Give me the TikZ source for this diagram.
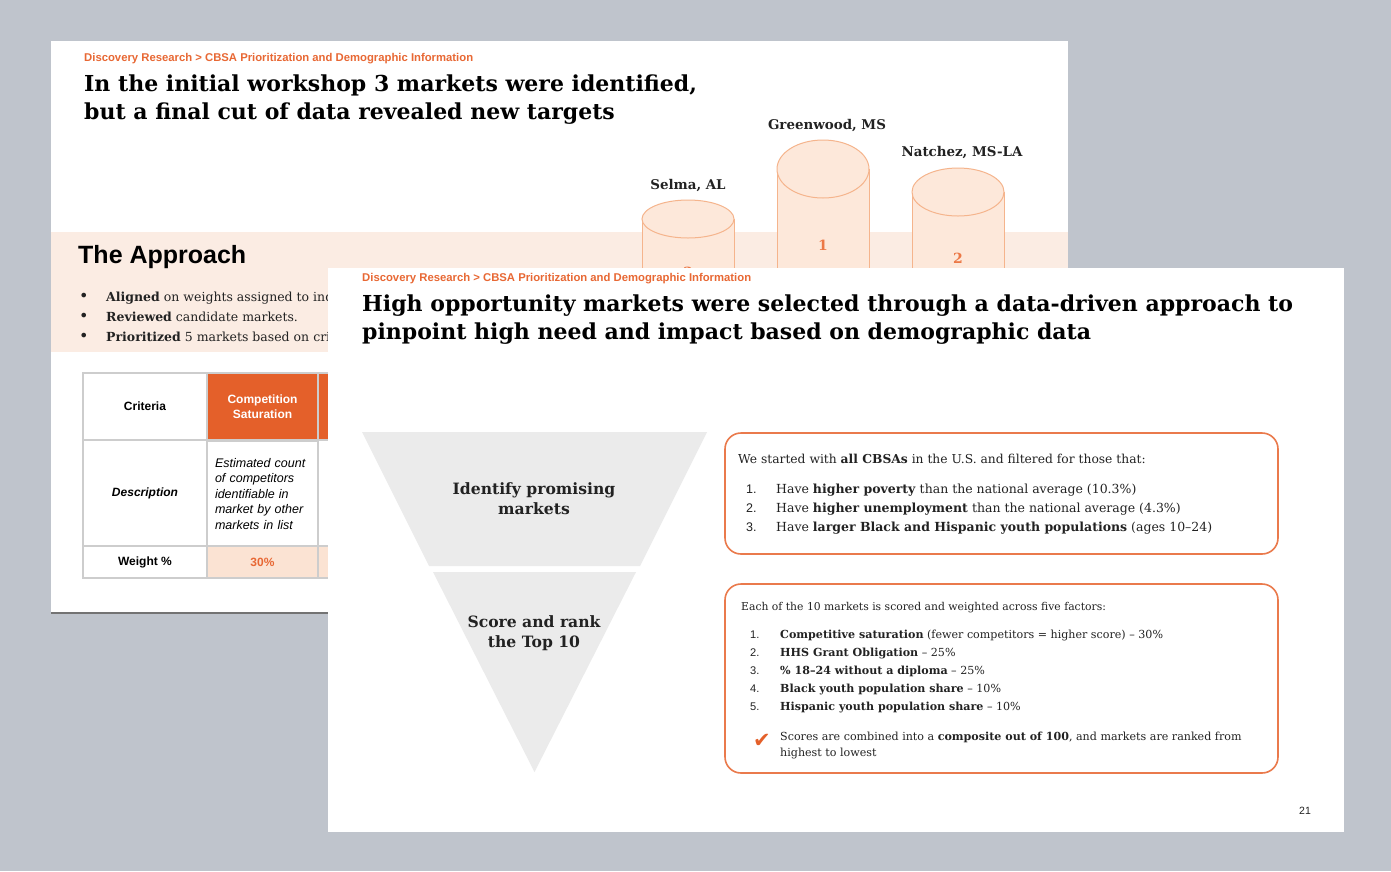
\documentclass[tikz,border=0pt]{standalone}
\usepackage{fontspec}
\setmainfont{DejaVu Serif}
\setsansfont{Liberation Sans}
\newfontfamily\symfont{DejaVu Sans}
\usetikzlibrary{positioning}

\definecolor{deskgray}{RGB}{191,196,204}
\definecolor{crumbor}{RGB}{232,104,52}
\definecolor{heador}{RGB}{228,96,42}
\definecolor{boxor}{RGB}{234,122,76}
\definecolor{numor}{RGB}{236,120,70}
\definecolor{bandpeach}{RGB}{251,236,227}
\definecolor{cellpeach}{RGB}{251,227,211}
\definecolor{cylfill}{RGB}{253,232,218}
\definecolor{cylline}{RGB}{245,180,140}
\definecolor{funnelgray}{RGB}{235,235,235}
\definecolor{tblgray}{RGB}{205,205,205}
\definecolor{inkgray}{RGB}{34,34,34}

\newcommand\fs[2]{\fontsize{#1}{#2}\selectfont}

\begin{document}
\begin{tikzpicture}[x=1pt, y=-1pt,
  crumb/.style={anchor=mid west, inner sep=0, text=crumbor, font=\sffamily\bfseries\fs{11.3}{13}},
  headline/.style={anchor=mid west, inner sep=0, text=black, font=\bfseries\fs{22}{28}},
  bodytxt/.style={anchor=mid west, inner sep=0, text=inkgray, font=\fs{12.5}{15}},
  smalltxt/.style={anchor=mid west, inner sep=0, text=inkgray, font=\fs{11.1}{14}},
  cell/.style={draw=tblgray, line width=1.2pt, inner sep=0, font=\sffamily\bfseries\fs{12}{15}},
  cyl/.style={fill=cylfill, draw=cylline, line width=1pt},
  cyllabel/.style={inner sep=0, text=inkgray, font=\bfseries\fs{13.4}{16}},
  cylnum/.style={inner sep=0, text=numor, font=\bfseries\fs{14}{16}},
  funnel/.style={fill=funnelgray},
  stage/.style={inner sep=0, align=center, text=inkgray, font=\bfseries\fs{15.6}{20}},
  panel/.style={draw=boxor, line width=1.6pt, rounded corners=16pt}
]
\useasboundingbox (0,0) rectangle (1391,871);
\fill[deskgray] (0,0) rectangle (1391,871);

% slide behind
\fill[white] (51,41) rectangle (1068,614);
\fill[bandpeach] (51,232) rectangle (1068,352);
\draw[black!55, line width=2pt] (51,613) -- (1068,613);

\node[crumb] (crumbA) at (84,59) {Discovery Research > CBSA Prioritization and Demographic Information};
\node[headline] (titleA1) at (84,89) {In the initial workshop 3 markets were identified,};
\node[headline] (titleA2) at (84,117) {but a final cut of data revealed new targets};

\foreach \cx/\cy/\ry in {688/219/19, 823/169/29, 958/192/24}{
  \filldraw[cyl] (\cx-46,\cy) rectangle (\cx+46,330);
  \filldraw[cyl] (\cx,\cy) ellipse [x radius=46, y radius=\ry];
}
\node[cyllabel] (selma) at (688,186) {Selma, AL};
\node[cyllabel] (greenwood) at (827,126) {Greenwood, MS};
\node[cyllabel] (natchez) at (962,153) {Natchez, MS-LA};
\node[cylnum] (rank1) at (823,245) {1};
\node[cylnum] (rank2) at (958,258) {2};
\node[cylnum] (rank3) at (688,272) {3};

\node[anchor=mid west, inner sep=0, font=\sffamily\bfseries\fs{25}{30}] (approach) at (78,261) {The Approach};
\foreach \y/\txt in {297/{\textbf{Aligned} on weights assigned to ind},
                     317/{\textbf{Reviewed} candidate markets.},
                     337/{\textbf{Prioritized} 5 markets based on cri}}{
  \node[bodytxt, font=\fs{16}{16}] (dot\y) at (79,\y+2) {\textbullet};
  \node[bodytxt] (bul\y) at (106,\y+2) {\txt};
}

% criteria table
\node[cell, minimum width=124, minimum height=67] (crit) at (145,406.5) {Criteria};
\node[cell, fill=heador, text=white, align=center, minimum width=111, minimum height=67] (comp) at (262.5,406.5) {Competition\\Saturation};
\node[cell, fill=heador, minimum width=112, minimum height=67] (nexthead) at (374,406.5) {};
\node[cell, font=\sffamily\bfseries\itshape\fs{12}{15}, minimum width=124, minimum height=106] (desc) at (145,493) {Description};
\node[cell, font=\sffamily\itshape\fs{12.5}{15.5}, align=left, text width=95, inner xsep=8, minimum width=111, minimum height=106] (compdesc) at (262.5,494)
  {Estimated count\\of competitors\\identifiable in\\market by other\\markets in list};
\node[cell, minimum width=112, minimum height=106] (nextdesc) at (374,493) {};
\node[cell, minimum width=124, minimum height=32] (weight) at (145,562) {Weight \%};
\node[cell, fill=cellpeach, text=crumbor, minimum width=111, minimum height=32] (compweight) at (262.5,562) {30\%};
\node[cell, fill=cellpeach, minimum width=112, minimum height=32] (nextweight) at (374,562) {};

% slide in front
\fill[white] (328,268) rectangle (1344,832);

\node[crumb] (crumbB) at (362,279) {Discovery Research > CBSA Prioritization and Demographic Information};
\node[headline] (titleB1) at (362,309) {High opportunity markets were selected through a data-driven approach to};
\node[headline] (titleB2) at (362,337) {pinpoint high need and impact based on demographic data};

\fill[funnel] (362,432) -- (707,432) -- (640,566) -- (429,566) -- cycle;
\fill[funnel] (433,572) -- (636,572) -- (534.5,772) -- cycle;
\node[stage] (identify) at (534,499) {Identify promising\\markets};
\node[stage] (score) at (534,633) {Score and rank\\the Top 10};

\node[panel, minimum width=553, minimum height=121] (filter) at (1001.5,493.5) {};
\node[bodytxt, font=\fs{12.3}{15}] (filterhead) at (738,461) {We started with \textbf{all CBSAs} in the U.S. and filtered for those that:};
\foreach \k/\y/\txt in {1/491/{Have \textbf{higher poverty} than the national average (10.3\%)},
                        2/510/{Have \textbf{higher unemployment} than the national average (4.3\%)},
                        3/529/{Have \textbf{larger Black and Hispanic youth populations} (ages 10--24)}}{
  \node[bodytxt, font=\sffamily\fs{12.5}{15}] (fnum\k) at (746,\y) {\k.};
  \node[bodytxt] (fitem\k) at (776,\y) {\txt};
}

\node[panel, minimum width=553, minimum height=189] (ranking) at (1001.5,678.5) {};
\node[smalltxt, font=\fs{10.8}{14}] (rankhead) at (741,608) {Each of the 10 markets is scored and weighted across five factors:};
\foreach \k/\y/\txt in {1/636/{\textbf{Competitive saturation} (fewer competitors = higher score) -- 30\%},
                        2/654/{\textbf{HHS Grant Obligation} -- 25\%},
                        3/672/{\textbf{\% 18--24 without a diploma} -- 25\%},
                        4/690/{\textbf{Black youth population share} -- 10\%},
                        5/708/{\textbf{Hispanic youth population share} -- 10\%}}{
  \node[smalltxt, font=\sffamily\fs{11.1}{14}] (rnum\k) at (750,\y) {\k.};
  \node[smalltxt] (ritem\k) at (780,\y) {\txt};
}
\node[inner sep=0, text=heador, font=\symfont\fs{21}{22}] (tick) at (762,741) {✔};
\node[smalltxt] (ranknote) at (780,738) {Scores are combined into a \textbf{composite out of 100}, and markets are ranked from};
\node[smalltxt] (ranknote2) at (780,754) {highest to lowest};

\node[inner sep=0, text=inkgray, font=\sffamily\fs{10.5}{12}] (pageno) at (1305,811) {21};
\end{tikzpicture}
\end{document}
